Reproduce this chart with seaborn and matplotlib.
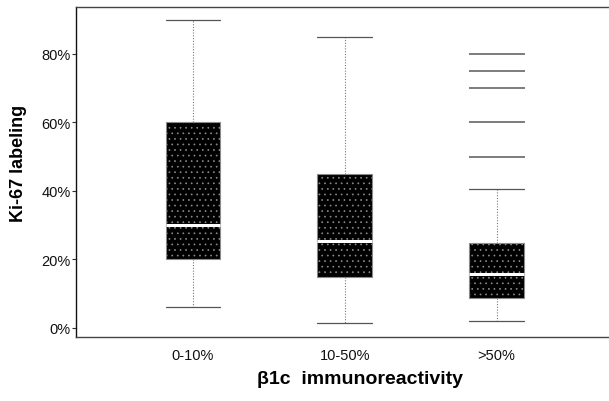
import pandas as pd
import matplotlib.pyplot as plt
import seaborn as sns
from matplotlib.ticker import PercentFormatter

# five-number summary per group (Ki-67 labeling, %)
groups = ["0-10%", "10-50%", ">50%"]
whiskerLow = [6, 1.5, 2]
q1 = [20, 15, 8.8]
median = [30, 25.5, 15.7]
q3 = [60, 45, 24.7]
whiskerHigh = [90, 85, 40.6]

# outliers of the >50% group
outlierGroup = [">50%", ">50%", ">50%", ">50%", ">50%"]
outlierValues = [50, 60, 70, 75, 80]


def buildFrame() -> pd.DataFrame:
    rows = []
    for i, g in enumerate(groups):
        for v in (whiskerLow[i], q1[i], median[i], q3[i], whiskerHigh[i]):
            rows.append({"group": g, "ki67": v})
    return pd.DataFrame(rows)


def plotKi67():
    df = buildFrame()
    dfOut = pd.DataFrame({"group": outlierGroup, "ki67": outlierValues})

    sns.set_style("ticks")
    plt.rcParams["font.family"] = ["Liberation Sans", "DejaVu Sans"]
    plt.rcParams["hatch.linewidth"] = 0.5

    fig = plt.figure(figsize=(6.09, 4.02), dpi=100)
    ax = fig.add_axes([0.1248, 0.1592, 0.8752, 0.8208])

    sns.boxplot(data=df, x="group", y="ki67", order=groups, width=0.36,
                whis=(0, 100), showfliers=False, color="black",
                linecolor="#7a7a7a", linewidth=0.8,
                boxprops=dict(facecolor="black", edgecolor="#8a8a8a", hatch="..."),
                medianprops=dict(color="white", linewidth=2.2),
                whiskerprops=dict(color="#777777", linestyle=(0, (1, 1.5))),
                capprops=dict(color="#555555", linewidth=0.9),
                capwidths=0.36, ax=ax)

    sns.stripplot(data=dfOut, x="group", y="ki67", order=groups, jitter=False,
                  marker="_", size=41, linewidth=1.2, color="#666666", ax=ax)

    ax.set_xlim(-0.77, 2.74)
    ax.set_ylim(-2.63, 93.7)
    ax.set_yticks([0, 20, 40, 60, 80])
    ax.yaxis.set_major_formatter(PercentFormatter(decimals=0))

    ax.tick_params(axis="y", length=3, width=0.8, color="#333333", pad=1,
                   labelsize=10.5, labelcolor="#111111")
    ax.tick_params(axis="x", length=0, pad=8, labelsize=10.5, labelcolor="#111111")

    ax.spines["right"].set_visible(False)
    ax.spines["left"].set_color("#111111")
    ax.spines["top"].set_color("#444444")
    ax.spines["bottom"].set_color("#444444")
    for s in ["left", "top", "bottom"]:
        ax.spines[s].set_linewidth(1.0)

    ax.set_xlabel("\u03b21c  immunoreactivity", fontsize=14, fontweight="bold", color="black")
    ax.set_ylabel("Ki-67 labeling", fontsize=13, fontweight="bold", color="black")
    ax.xaxis.set_label_coords(0.533, -0.10)
    ax.yaxis.set_label_coords(-0.092, 0.529)

    fig.savefig("out.png", dpi=100)
    plt.close(fig)


if __name__ == "__main__":
    plotKi67()
